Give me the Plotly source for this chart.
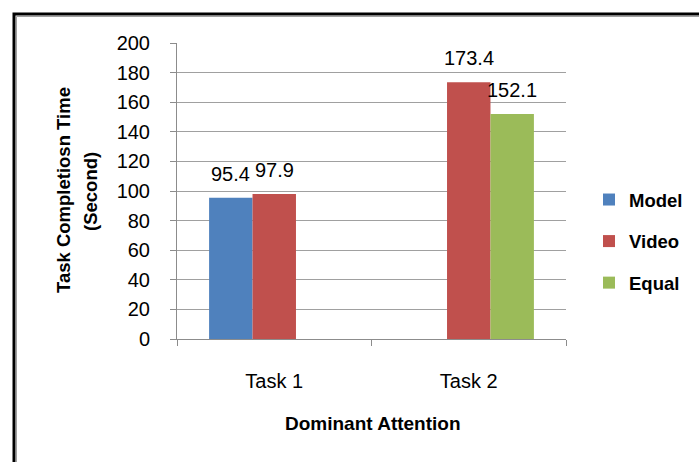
import plotly.graph_objects as go

# Data
categories = ["Task 1", "Task 2"]
series_names = ["Model", "Video", "Equal"]
model_vals = [95.4, None]
video_vals = [97.9, 173.4]
equal_vals = [None, 152.1]
colors = ["#4F81BD", "#C0504D", "#9BBB59"]
y_ticks = [0, 20, 40, 60, 80, 100, 120, 140, 160, 180, 200]

W, H = 699, 462
ML, MR, MT, MB = 177, 133, 43, 123
PW, PH = W - ML - MR, H - MT - MB
BARGAP = 0.33

FONT = "Liberation Sans"

fig = go.Figure()
for name, vals, col in zip(series_names, [model_vals, video_vals, equal_vals], colors):
    fig.add_trace(go.Bar(
        x=categories, y=vals, name=name, marker_color=col,
        marker_line_width=0, legendgroup=name,
    ))

# value labels above each bar
cat_px = PW / len(categories)
bar_px = cat_px * (1 - BARGAP) / len(series_names)
for i, vals in enumerate([model_vals, video_vals, equal_vals]):
    shift = (i - 1) * bar_px
    for c, v in zip(categories, vals):
        if v is None:
            continue
        fig.add_annotation(
            x=c, y=v, xref="x", yref="y", text=f"{v}", showarrow=False,
            xshift=shift, yshift=24, yanchor="middle", xanchor="center",
            font=dict(family=FONT, size=20, color="#000000"),
        )

def px_x(p):
    return (p - ML) / PW

def px_y(p):
    return (H - MB - p) / PH

# axis titles
fig.add_annotation(x=px_x(63), y=px_y(190), xref="paper", yref="paper",
                   text="<b>Task Completiosn Time</b>", textangle=-90, showarrow=False,
                   xanchor="center", yanchor="middle",
                   font=dict(family=FONT, size=18.5, color="#000000"))
fig.add_annotation(x=px_x(90), y=px_y(192), xref="paper", yref="paper",
                   text="<b>(Second)</b>", textangle=-90, showarrow=False,
                   xanchor="center", yanchor="middle",
                   font=dict(family=FONT, size=18.5, color="#000000"))
fig.add_annotation(x=px_x(373), y=px_y(423), xref="paper", yref="paper",
                   text="<b>Dominant Attention</b>", showarrow=False,
                   xanchor="center", yanchor="middle",
                   font=dict(family=FONT, size=19, color="#000000"))

# chart frame
fig.add_shape(type="rect", xref="paper", yref="paper",
              x0=px_x(14), x1=px_x(760), y0=px_y(14), y1=px_y(520),
              line=dict(color="#000000", width=3), fillcolor="rgba(0,0,0,0)", layer="above")
fig.add_shape(type="rect", xref="paper", yref="paper",
              x0=px_x(16.5), x1=px_x(760), y0=px_y(16.5), y1=px_y(520),
              line=dict(color="#a0a0a0", width=1), fillcolor="rgba(0,0,0,0)", layer="above")

fig.update_layout(
    width=W, height=H,
    margin=dict(l=ML, r=MR, t=MT, b=MB, pad=0, autoexpand=False),
    paper_bgcolor="#ffffff", plot_bgcolor="#ffffff",
    barmode="group", bargap=BARGAP, bargroupgap=0,
    font=dict(family=FONT, size=20, color="#000000"),
    showlegend=True,
    legend=dict(
        x=px_x(589), y=px_y(181), xanchor="left", yanchor="top",
        font=dict(family=FONT, size=18.5, color="#000000", weight="bold"),
        traceorder="grouped", tracegroupgap=14.5, itemwidth=30,
        bgcolor="rgba(0,0,0,0)",
    ),
)
fig.update_xaxes(
    showgrid=False, showline=True, linecolor="#8c8c8c", linewidth=1,
    ticks="outside", ticklen=6, tickcolor="#8c8c8c", tickson="boundaries",
    ticklabelstandoff=24,
    tickfont=dict(family=FONT, size=20, color="#000000"),
)
fig.update_yaxes(
    range=[0, 200], tickvals=y_ticks, showgrid=True, gridcolor="#a0a0a0", gridwidth=1,
    showline=True, linecolor="#8c8c8c", linewidth=1, zeroline=False,
    ticks="outside", ticklen=6, tickcolor="#8c8c8c", ticklabelstandoff=16,
    tickfont=dict(family=FONT, size=20, color="#000000"),
)

fig.write_html("out.html")
